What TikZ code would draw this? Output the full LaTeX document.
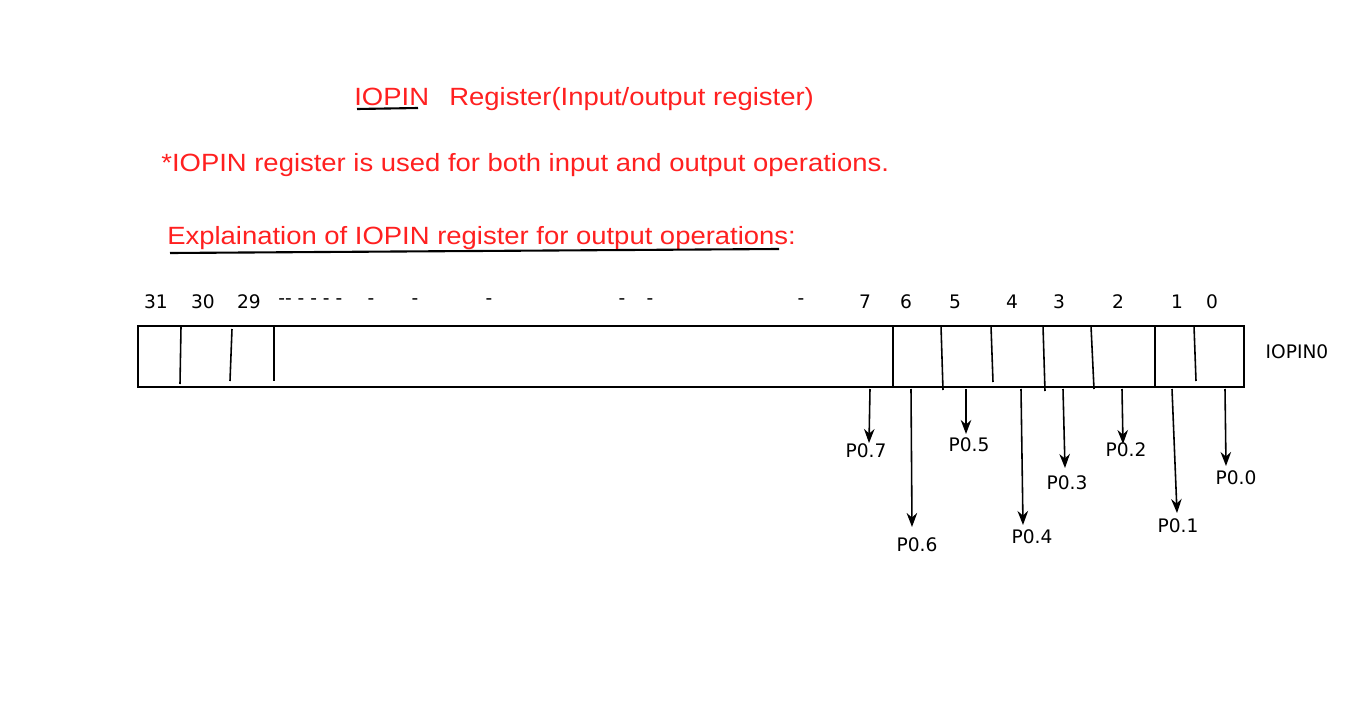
\documentclass[tikz,border=0pt]{standalone}
\usepackage{fontspec}
\setmainfont{DejaVu Sans}
\newfontfamily\redfont[FakeStretch=1.1]{Liberation Sans}
\usetikzlibrary{arrows.meta,positioning}
\definecolor{headred}{HTML}{FF2020}

\begin{document}
\begin{tikzpicture}[x=0.02cm,y=-0.02cm,every node/.style={font=\fontsize{10.6}{12}\selectfont,inner sep=0pt},head/.style={font=\redfont\fontsize{14.2}{17}\selectfont,text=headred,anchor=base west},arr/.style={-{Stealth[length=8pt,width=6pt]},line width=.9pt},cell/.style={line width=.9pt}]
\useasboundingbox (0,0) rectangle (1366,706);
% headings
\node[head] (title) at (354,106) {IOPIN};\node[head] (titlereg) at (449,106) {Register(Input/output register)};
\node[head] (note) at (161,172) {*IOPIN register is used for both input and output operations.};
\node[head] (expl) at (167,244) {Explaination of IOPIN register for output operations:};
\draw[line width=1.2pt] (357,109)--(418,108);\draw[line width=1.2pt] (170,253)--(779,249);
% register
\node[draw,line width=.9pt,minimum width=22.12cm,minimum height=1.22cm] (reg) at (691,356.5) {};
\node (regname) at (1297,352) {IOPIN0};
\foreach \xa/\ya/\xb/\yb in {181/327/180/384,232/329/230/381,274/326/274/381,893/326/893/387,941/326/943/390,991/326/993/382,1043/326/1045/391,1091/326/1094/389,1155/326/1155/387,1194/326/1196/381}{\draw[cell] (\xa,\ya)--(\xb,\yb);}
% bit numbers
\foreach \b/\x in {31/156,30/203,29/249,7/865,6/906,5/955,4/1012,3/1059,2/1118,1/1177,0/1212}{\node (bit\b) at (\x,302) {\b};}
\node[anchor=west] (gap) at (278,302) {-{}- - - - -};
\foreach \i/\x in {a/371,b/415,c/489,d/622,e/650,f/801}{\node (dash\i) at (\x,302) {-};}
% pins
\foreach \n/\xa/\xb/\yb/\lx/\ly in {7/870/869/443/866/451,6/911/912/527/917/545,5/966/966/434/969/445,4/1021/1023/525/1032/537,3/1063/1065/468/1067/483,2/1122/1123/444/1126/450,1/1172/1177/513/1178/526,0/1225/1226/466/1236/478}{
\coordinate (s\n) at (\xa,389);\coordinate (e\n) at (\xb,\yb);
\node (p\n) at (\lx,\ly) {P0.\n};
\draw[arr] (s\n)--(e\n);}
\end{tikzpicture}
\end{document}
